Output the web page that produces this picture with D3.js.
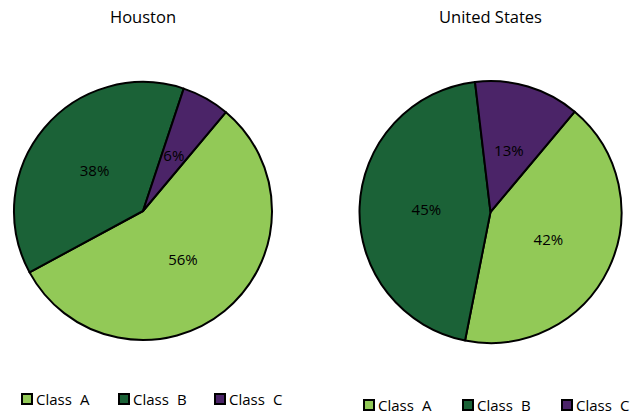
<!DOCTYPE html>
<html>
<head>
<meta charset="utf-8">
<script src="https://cdn.jsdelivr.net/npm/d3@7"></script>
<style>
  html, body { margin: 0; padding: 0; background: #fff; }
  svg { display: block; }
  text { font-family: "Open Sans", "Noto Sans", sans-serif; fill: #000; }
</style>
</head>
<body>
<svg id="chart" width="634" height="414"></svg>
<script>
// Share of each class, Houston vs United States
const classes = ["A", "B", "C"];
const houstonValues = [56, 38, 6];
const usValues = [42, 45, 13];
const regionNames = ["Houston", "United States"];
const classColors = ["#92c957", "#1b6237", "#4b2468"];

const svg = d3.select("#chart");

const panels = [
  { name: regionNames[0], values: houstonValues, cx: 143, cy: 211, r: 129, legendX: [21, 118, 214], legendY: 393 },
  { name: regionNames[1], values: usValues, cx: 490.5, cy: 212, r: 131, legendX: [363, 462, 561], legendY: 399 }
];

const color = d3.scaleOrdinal().domain(classes).range(classColors);

const startAngle = 40 * Math.PI / 180;
const pie = d3.pie()
  .sort(null)
  .value(d => d.value)
  .startAngle(startAngle)
  .endAngle(startAngle + 2 * Math.PI);

panels.forEach(p => {
  const data = classes.map((c, i) => ({ cls: c, value: p.values[i] }));
  const arcs = pie(data);
  const arc = d3.arc().innerRadius(0).outerRadius(p.r);
  const labelArc = d3.arc().innerRadius(p.r * 0.49).outerRadius(p.r * 0.49);

  const g = svg.append("g").attr("transform", `translate(${p.cx},${p.cy})`);

  g.selectAll("path.slice")
    .data(arcs)
    .join("path")
    .attr("class", "slice")
    .attr("d", arc)
    .attr("fill", d => color(d.data.cls))
    .attr("stroke", "#000")
    .attr("stroke-width", 2)
    .attr("stroke-linejoin", "round");

  g.selectAll("text.pct")
    .data(arcs)
    .join("text")
    .attr("class", "pct")
    .attr("transform", d => {
      const [x, y] = labelArc.centroid(d);
      return `translate(${x},${y})`;
    })
    .attr("text-anchor", "middle")
    .attr("dy", "0.35em")
    .style("font-size", "15px")
    .text(d => d.data.value + "%");

  svg.append("text")
    .attr("x", p.cx)
    .attr("y", 23)
    .attr("text-anchor", "middle")
    .style("font-size", "16.5px")
    .text(p.name);

  const lg = svg.append("g");
  classes.forEach((c, i) => {
    const x = p.legendX[i];
    lg.append("rect")
      .attr("x", x + 1)
      .attr("y", p.legendY + 1)
      .attr("width", 10)
      .attr("height", 10)
      .attr("fill", color(c))
      .attr("stroke", "#000")
      .attr("stroke-width", 2);
    lg.append("text")
      .attr("x", x + 15)
      .attr("y", p.legendY + 12)
      .style("font-size", "15px")
      .text("Class");
    lg.append("text")
      .attr("x", x + 59)
      .attr("y", p.legendY + 12)
      .style("font-size", "15px")
      .text(c);
  });
});
</script>
</body>
</html>
